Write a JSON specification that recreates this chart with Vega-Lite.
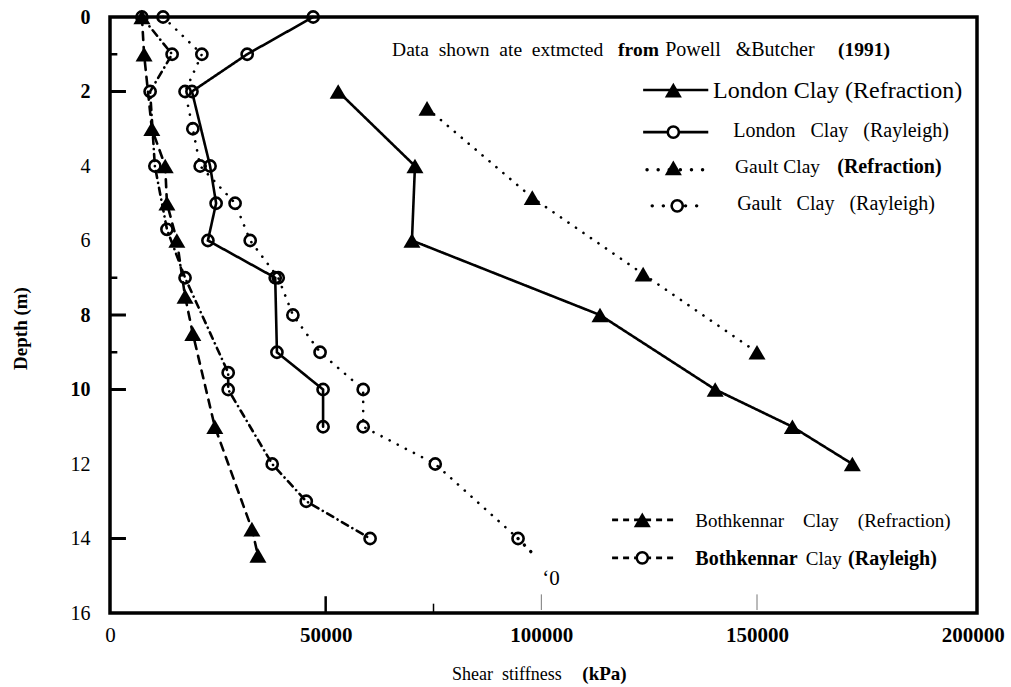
{
  "$schema": "https://vega.github.io/schema/vega-lite/v6.json",
  "width": 867,
  "height": 596,
  "autosize": {"type": "none"},
  "padding": {"left": 110, "top": 17, "right": 34, "bottom": 74},
  "background": "white",
  "config": {
    "font": "Liberation Serif",
    "view": {"stroke": "black", "strokeWidth": 3.5},
    "text": {"font": "Liberation Serif", "color": "black"}
  },
  "datasets": {
    "main": [
      {"series": "London Clay (Refraction)", "method": "Refraction", "G": 52900, "depth": 2},
      {"series": "London Clay (Refraction)", "method": "Refraction", "G": 70700, "depth": 4},
      {"series": "London Clay (Refraction)", "method": "Refraction", "G": 70000, "depth": 6},
      {"series": "London Clay (Refraction)", "method": "Refraction", "G": 113600, "depth": 8},
      {"series": "London Clay (Refraction)", "method": "Refraction", "G": 140300, "depth": 10},
      {"series": "London Clay (Refraction)", "method": "Refraction", "G": 158200, "depth": 11},
      {"series": "London Clay (Refraction)", "method": "Refraction", "G": 172100, "depth": 12},
      {"series": "London Clay (Rayleigh)", "method": "Rayleigh", "G": 47100, "depth": 0},
      {"series": "London Clay (Rayleigh)", "method": "Rayleigh", "G": 31800, "depth": 1},
      {"series": "London Clay (Rayleigh)", "method": "Rayleigh", "G": 19000, "depth": 2},
      {"series": "London Clay (Rayleigh)", "method": "Rayleigh", "G": 23200, "depth": 4},
      {"series": "London Clay (Rayleigh)", "method": "Rayleigh", "G": 24600, "depth": 5},
      {"series": "London Clay (Rayleigh)", "method": "Rayleigh", "G": 22700, "depth": 6},
      {"series": "London Clay (Rayleigh)", "method": "Rayleigh", "G": 38300, "depth": 7},
      {"series": "London Clay (Rayleigh)", "method": "Rayleigh", "G": 38700, "depth": 9},
      {"series": "London Clay (Rayleigh)", "method": "Rayleigh", "G": 49400, "depth": 10},
      {"series": "London Clay (Rayleigh)", "method": "Rayleigh", "G": 49400, "depth": 11},
      {"series": "Gault Clay (Refraction)", "method": "Refraction", "G": 73500, "depth": 2.45},
      {"series": "Gault Clay (Refraction)", "method": "Refraction", "G": 97900, "depth": 4.85},
      {"series": "Gault Clay (Refraction)", "method": "Refraction", "G": 123600, "depth": 6.9},
      {"series": "Gault Clay (Refraction)", "method": "Refraction", "G": 150000, "depth": 9},
      {"series": "Gault Clay (Rayleigh)", "method": "Rayleigh", "G": 12300, "depth": 0},
      {"series": "Gault Clay (Rayleigh)", "method": "Rayleigh", "G": 21300, "depth": 1},
      {"series": "Gault Clay (Rayleigh)", "method": "Rayleigh", "G": 17400, "depth": 2},
      {"series": "Gault Clay (Rayleigh)", "method": "Rayleigh", "G": 19200, "depth": 3},
      {"series": "Gault Clay (Rayleigh)", "method": "Rayleigh", "G": 20900, "depth": 4},
      {"series": "Gault Clay (Rayleigh)", "method": "Rayleigh", "G": 29000, "depth": 5},
      {"series": "Gault Clay (Rayleigh)", "method": "Rayleigh", "G": 32500, "depth": 6},
      {"series": "Gault Clay (Rayleigh)", "method": "Rayleigh", "G": 39000, "depth": 7},
      {"series": "Gault Clay (Rayleigh)", "method": "Rayleigh", "G": 42400, "depth": 8},
      {"series": "Gault Clay (Rayleigh)", "method": "Rayleigh", "G": 48700, "depth": 9},
      {"series": "Gault Clay (Rayleigh)", "method": "Rayleigh", "G": 58700, "depth": 10},
      {"series": "Gault Clay (Rayleigh)", "method": "Rayleigh", "G": 58700, "depth": 11},
      {"series": "Gault Clay (Rayleigh)", "method": "Rayleigh", "G": 75400, "depth": 12},
      {"series": "Gault Clay (Rayleigh)", "method": "Rayleigh", "G": 94600, "depth": 14},
      {"series": "Bothkennar Clay (Refraction)", "method": "Refraction", "G": 7400, "depth": 0},
      {"series": "Bothkennar Clay (Refraction)", "method": "Refraction", "G": 7900, "depth": 1},
      {"series": "Bothkennar Clay (Refraction)", "method": "Refraction", "G": 9700, "depth": 3},
      {"series": "Bothkennar Clay (Refraction)", "method": "Refraction", "G": 12800, "depth": 4},
      {"series": "Bothkennar Clay (Refraction)", "method": "Refraction", "G": 13200, "depth": 5},
      {"series": "Bothkennar Clay (Refraction)", "method": "Refraction", "G": 15500, "depth": 6},
      {"series": "Bothkennar Clay (Refraction)", "method": "Refraction", "G": 17400, "depth": 7.5},
      {"series": "Bothkennar Clay (Refraction)", "method": "Refraction", "G": 19200, "depth": 8.5},
      {"series": "Bothkennar Clay (Refraction)", "method": "Refraction", "G": 24300, "depth": 11},
      {"series": "Bothkennar Clay (Refraction)", "method": "Refraction", "G": 32900, "depth": 13.75},
      {"series": "Bothkennar Clay (Refraction)", "method": "Refraction", "G": 34300, "depth": 14.45},
      {"series": "Bothkennar Clay (Rayleigh)", "method": "Rayleigh", "G": 7400, "depth": 0},
      {"series": "Bothkennar Clay (Rayleigh)", "method": "Rayleigh", "G": 14400, "depth": 1},
      {"series": "Bothkennar Clay (Rayleigh)", "method": "Rayleigh", "G": 9300, "depth": 2},
      {"series": "Bothkennar Clay (Rayleigh)", "method": "Rayleigh", "G": 10400, "depth": 4},
      {"series": "Bothkennar Clay (Rayleigh)", "method": "Rayleigh", "G": 13200, "depth": 5.7},
      {"series": "Bothkennar Clay (Rayleigh)", "method": "Rayleigh", "G": 17400, "depth": 7},
      {"series": "Bothkennar Clay (Rayleigh)", "method": "Rayleigh", "G": 27400, "depth": 9.55},
      {"series": "Bothkennar Clay (Rayleigh)", "method": "Rayleigh", "G": 27400, "depth": 10},
      {"series": "Bothkennar Clay (Rayleigh)", "method": "Rayleigh", "G": 37600, "depth": 12},
      {"series": "Bothkennar Clay (Rayleigh)", "method": "Rayleigh", "G": 45500, "depth": 13},
      {"series": "Bothkennar Clay (Rayleigh)", "method": "Rayleigh", "G": 60300, "depth": 14}
    ],
    "one": [{}]
  },
  "layer": [
    {
      "data": {"name": "main"},
      "mark": {"type": "line", "color": "black", "strokeCap": "round"},
      "encoding": {
        "x": {"field": "G", "type": "quantitative",
          "scale": {"domain": [0, 201000], "nice": false, "zero": false},
          "axis": {"values": [0, 50000, 100000, 150000, 200000], "format": "d", "title": null,
            "labelFont": "Liberation Serif", "labelFontSize": 21, "labelColor": "black",
            "labelFontWeight": {"condition": {"test": "datum.value == 0", "value": "normal"}, "value": "bold"},
            "ticks": false, "domain": false, "grid": false, "labelPadding": 11, "labelFlush": false, "labelOverlap": false}},
        "y": {"field": "depth", "type": "quantitative",
          "scale": {"domain": [0, 16], "reverse": true, "nice": false, "zero": false},
          "axis": {"values": [0, 2, 4, 6, 8, 10, 12, 14, 16], "format": "d", "title": "Depth (m)",
            "labelFont": "Liberation Serif", "labelFontSize": 20, "labelColor": "black",
            "labelFontWeight": {"condition": {"test": "datum.value == 0 || datum.value == 2 || datum.value == 8 || datum.value == 10", "value": "bold"}, "value": "normal"},
            "ticks": false, "domain": false, "grid": false, "labelPadding": 20, "labelFlush": false, "labelOverlap": false,
            "titleFont": "Liberation Serif", "titleFontSize": 19, "titleFontWeight": "bold", "titleColor": "black",
            "titleX": -90, "titleY": 311, "titleAngle": 270, "titleAlign": "center", "titleBaseline": "middle"}},
        "detail": {"field": "series"},
        "order": {"field": "depth", "type": "quantitative"},
        "strokeDash": {"field": "series", "type": "nominal", "legend": null,
          "scale": {"domain": ["London Clay (Refraction)", "London Clay (Rayleigh)", "Gault Clay (Refraction)", "Gault Clay (Rayleigh)", "Bothkennar Clay (Refraction)", "Bothkennar Clay (Rayleigh)"],
            "range": [[1, 0], [1, 0], [0.1, 9], [0.1, 9], [8, 7], [7, 5, 0.1, 5]]}},
        "strokeWidth": {"field": "series", "type": "nominal", "legend": null,
          "scale": {"domain": ["London Clay (Refraction)", "London Clay (Rayleigh)", "Gault Clay (Refraction)", "Gault Clay (Rayleigh)", "Bothkennar Clay (Refraction)", "Bothkennar Clay (Rayleigh)"],
            "range": [2.6, 2.6, 3.4, 3.4, 2.6, 2.6]}}
      }
    },
    {
      "data": {"name": "main"},
      "transform": [{"filter": "datum.method == 'Refraction'"}],
      "mark": {"type": "point", "shape": "triangle-up", "filled": true, "color": "black", "size": 290, "opacity": 1},
      "encoding": {"x": {"field": "G", "type": "quantitative"}, "y": {"field": "depth", "type": "quantitative"}}
    },
    {
      "data": {"name": "main"},
      "transform": [{"filter": "datum.method == 'Rayleigh'"}],
      "mark": {"type": "point", "shape": "circle", "filled": false, "color": "black", "strokeWidth": 2.6, "size": 125, "opacity": 1},
      "encoding": {"x": {"field": "G", "type": "quantitative"}, "y": {"field": "depth", "type": "quantitative"}}
    },
    {
      "data": {"name": "one"},
      "mark": {"type": "rule", "color": "black", "strokeWidth": 3.4, "strokeCap": "round", "strokeDash": [0.1, 9]},
      "encoding": {"x": {"datum": 94600, "type": "quantitative"}, "y": {"datum": 14, "type": "quantitative"}, "x2": {"datum": 98300}, "y2": {"datum": 14.44}}
    },
    {
      "data": {"name": "one"},
      "mark": {"type": "text", "text": "‘0", "fontSize": 21, "align": "left", "baseline": "alphabetic"},
      "encoding": {"x": {"datum": 100200, "type": "quantitative"}, "y": {"datum": 15.25, "type": "quantitative"}}
    },
    {
      "data": {"values": [{"d": 1}, {"d": 7}, {"d": 9}]},
      "mark": {"type": "rule", "color": "black", "strokeWidth": 2.5},
      "encoding": {"y": {"field": "d", "type": "quantitative"}, "x": {"datum": 0, "type": "quantitative"}, "x2": {"datum": 1700}}
    },
    {
      "data": {"values": [{"d": 2}, {"d": 8}, {"d": 10}, {"d": 14}]},
      "mark": {"type": "rule", "color": "black", "strokeWidth": 3},
      "encoding": {"y": {"field": "d", "type": "quantitative"}, "x": {"datum": 0, "type": "quantitative"}, "x2": {"datum": 3700}}
    },
    {
      "data": {"values": [{"g": 50000}]},
      "mark": {"type": "rule", "color": "black", "strokeWidth": 2.5},
      "encoding": {"x": {"field": "g", "type": "quantitative"}, "y": {"datum": 16, "type": "quantitative"}, "y2": {"datum": 15.55}}
    },
    {
      "data": {"values": [{"g": 75000}]},
      "mark": {"type": "rule", "color": "black", "strokeWidth": 1.5},
      "encoding": {"x": {"field": "g", "type": "quantitative"}, "y": {"datum": 16, "type": "quantitative"}, "y2": {"datum": 15.75}}
    },
    {
      "data": {"values": [{"g": 100000}, {"g": 150000}]},
      "mark": {"type": "rule", "color": "#777777", "strokeWidth": 1},
      "encoding": {"x": {"field": "g", "type": "quantitative"}, "y": {"datum": 15.92, "type": "quantitative"}, "y2": {"datum": 15.5}}
    },
    {
      "data": {"name": "one"},
      "mark": {"type": "text", "text": "Data\u00a0 shown\u00a0 ate\u00a0 extmcted", "fontSize": 19.5, "align": "left", "baseline": "alphabetic"},
      "encoding": {"x": {"datum": 65400, "type": "quantitative"}, "y": {"datum": 1.05, "type": "quantitative"}}
    },
    {
      "data": {"name": "one"},
      "mark": {"type": "text", "text": "from", "fontSize": 19.5, "fontWeight": "bold", "align": "left", "baseline": "alphabetic"},
      "encoding": {"x": {"datum": 117800, "type": "quantitative"}, "y": {"datum": 1.05, "type": "quantitative"}}
    },
    {
      "data": {"name": "one"},
      "mark": {"type": "text", "text": "Powell\u00a0\u00a0 &Butcher", "fontSize": 20, "align": "left", "baseline": "alphabetic"},
      "encoding": {"x": {"datum": 128700, "type": "quantitative"}, "y": {"datum": 1.05, "type": "quantitative"}}
    },
    {
      "data": {"name": "one"},
      "mark": {"type": "text", "text": "(1991)", "fontSize": 19.5, "fontWeight": "bold", "align": "left", "baseline": "alphabetic"},
      "encoding": {"x": {"datum": 168800, "type": "quantitative"}, "y": {"datum": 1.05, "type": "quantitative"}}
    },
    {
      "data": {"name": "one"},
      "mark": {"type": "rule", "color": "black", "strokeWidth": 2.6},
      "encoding": {"x": {"datum": 123600, "type": "quantitative"}, "x2": {"datum": 138700}, "y": {"datum": 1.96, "type": "quantitative"}}
    },
    {
      "data": {"name": "one"},
      "mark": {"type": "point", "shape": "triangle-up", "filled": true, "color": "black", "size": 290, "opacity": 1},
      "encoding": {"x": {"datum": 130600, "type": "quantitative"}, "y": {"datum": 1.96, "type": "quantitative"}}
    },
    {
      "data": {"name": "one"},
      "mark": {"type": "text", "text": "London Clay (Refraction)", "fontSize": 24, "align": "left", "baseline": "alphabetic"},
      "encoding": {"x": {"datum": 139800, "type": "quantitative"}, "y": {"datum": 2.17, "type": "quantitative"}}
    },
    {
      "data": {"name": "one"},
      "mark": {"type": "rule", "color": "black", "strokeWidth": 2.6},
      "encoding": {"x": {"datum": 123600, "type": "quantitative"}, "x2": {"datum": 138700}, "y": {"datum": 3.09, "type": "quantitative"}}
    },
    {
      "data": {"name": "one"},
      "mark": {"type": "point", "shape": "circle", "filled": true, "fill": "white", "stroke": "black", "strokeWidth": 2.6, "size": 125, "opacity": 1},
      "encoding": {"x": {"datum": 130600, "type": "quantitative"}, "y": {"datum": 3.09, "type": "quantitative"}}
    },
    {
      "data": {"name": "one"},
      "mark": {"type": "text", "text": "London\u00a0\u00a0 Clay\u00a0\u00a0 (Rayleigh)", "fontSize": 20, "align": "left", "baseline": "alphabetic"},
      "encoding": {"x": {"datum": 144500, "type": "quantitative"}, "y": {"datum": 3.22, "type": "quantitative"}}
    },
    {
      "data": {"name": "one"},
      "mark": {"type": "rule", "color": "black", "strokeWidth": 3.4, "strokeCap": "round", "strokeDash": [0.1, 11]},
      "encoding": {"x": {"datum": 124500, "type": "quantitative"}, "x2": {"datum": 138500}, "y": {"datum": 4.1, "type": "quantitative"}}
    },
    {
      "data": {"name": "one"},
      "mark": {"type": "point", "shape": "triangle-up", "filled": true, "color": "black", "size": 290, "opacity": 1},
      "encoding": {"x": {"datum": 130600, "type": "quantitative"}, "y": {"datum": 4.05, "type": "quantitative"}}
    },
    {
      "data": {"name": "one"},
      "mark": {"type": "text", "text": "Gault Clay", "fontSize": 19.5, "align": "left", "baseline": "alphabetic"},
      "encoding": {"x": {"datum": 144900, "type": "quantitative"}, "y": {"datum": 4.19, "type": "quantitative"}}
    },
    {
      "data": {"name": "one"},
      "mark": {"type": "text", "text": "(Refraction)", "fontSize": 20, "fontWeight": "bold", "align": "left", "baseline": "alphabetic"},
      "encoding": {"x": {"datum": 168600, "type": "quantitative"}, "y": {"datum": 4.19, "type": "quantitative"}}
    },
    {
      "data": {"name": "one"},
      "mark": {"type": "rule", "color": "black", "strokeWidth": 3.4, "strokeCap": "round", "strokeDash": [0.1, 11]},
      "encoding": {"x": {"datum": 125700, "type": "quantitative"}, "x2": {"datum": 138500}, "y": {"datum": 5.07, "type": "quantitative"}}
    },
    {
      "data": {"name": "one"},
      "mark": {"type": "point", "shape": "circle", "filled": true, "fill": "white", "stroke": "black", "strokeWidth": 2.6, "size": 125, "opacity": 1},
      "encoding": {"x": {"datum": 131500, "type": "quantitative"}, "y": {"datum": 5.07, "type": "quantitative"}}
    },
    {
      "data": {"name": "one"},
      "mark": {"type": "text", "text": "Gault\u00a0\u00a0 Clay\u00a0\u00a0 (Rayleigh)", "fontSize": 20, "align": "left", "baseline": "alphabetic"},
      "encoding": {"x": {"datum": 145400, "type": "quantitative"}, "y": {"datum": 5.18, "type": "quantitative"}}
    },
    {
      "data": {"name": "one"},
      "mark": {"type": "rule", "color": "black", "strokeWidth": 2.6, "strokeDash": [6, 5]},
      "encoding": {"x": {"datum": 116400, "type": "quantitative"}, "x2": {"datum": 131000}, "y": {"datum": 13.5, "type": "quantitative"}}
    },
    {
      "data": {"name": "one"},
      "mark": {"type": "point", "shape": "triangle-up", "filled": true, "color": "black", "size": 290, "opacity": 1},
      "encoding": {"x": {"datum": 123400, "type": "quantitative"}, "y": {"datum": 13.5, "type": "quantitative"}}
    },
    {
      "data": {"name": "one"},
      "mark": {"type": "text", "text": "Bothkennar\u00a0\u00a0\u00a0 Clay\u00a0\u00a0\u00a0 (Refraction)", "fontSize": 19, "align": "left", "baseline": "alphabetic"},
      "encoding": {"x": {"datum": 135700, "type": "quantitative"}, "y": {"datum": 13.69, "type": "quantitative"}}
    },
    {
      "data": {"name": "one"},
      "mark": {"type": "rule", "color": "black", "strokeWidth": 2.6, "strokeDash": [6, 5]},
      "encoding": {"x": {"datum": 116400, "type": "quantitative"}, "x2": {"datum": 131000}, "y": {"datum": 14.52, "type": "quantitative"}}
    },
    {
      "data": {"name": "one"},
      "mark": {"type": "point", "shape": "circle", "filled": true, "fill": "white", "stroke": "black", "strokeWidth": 2.6, "size": 125, "opacity": 1},
      "encoding": {"x": {"datum": 123400, "type": "quantitative"}, "y": {"datum": 14.52, "type": "quantitative"}}
    },
    {
      "data": {"name": "one"},
      "mark": {"type": "text", "text": "Bothkennar", "fontSize": 20, "fontWeight": "bold", "align": "left", "baseline": "alphabetic"},
      "encoding": {"x": {"datum": 135700, "type": "quantitative"}, "y": {"datum": 14.71, "type": "quantitative"}}
    },
    {
      "data": {"name": "one"},
      "mark": {"type": "text", "text": "Clay", "fontSize": 19, "align": "left", "baseline": "alphabetic"},
      "encoding": {"x": {"datum": 161300, "type": "quantitative"}, "y": {"datum": 14.71, "type": "quantitative"}}
    },
    {
      "data": {"name": "one"},
      "mark": {"type": "text", "text": "(Rayleigh)", "fontSize": 20, "fontWeight": "bold", "align": "left", "baseline": "alphabetic"},
      "encoding": {"x": {"datum": 171100, "type": "quantitative"}, "y": {"datum": 14.71, "type": "quantitative"}}
    },
    {
      "data": {"name": "one"},
      "mark": {"type": "text", "text": "Shear\u00a0 stiffness", "fontSize": 18, "align": "left", "baseline": "alphabetic"},
      "encoding": {"x": {"datum": 79300, "type": "quantitative"}, "y": {"datum": 17.8, "type": "quantitative"}}
    },
    {
      "data": {"name": "one"},
      "mark": {"type": "text", "text": "(kPa)", "fontSize": 19, "fontWeight": "bold", "align": "left", "baseline": "alphabetic"},
      "encoding": {"x": {"datum": 109500, "type": "quantitative"}, "y": {"datum": 17.8, "type": "quantitative"}}
    }
  ]
}
